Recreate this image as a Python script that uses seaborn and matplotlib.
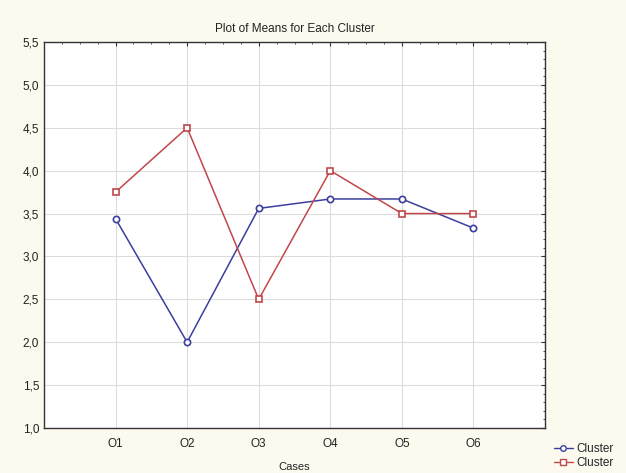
import numpy as np
import pandas as pd
import matplotlib
matplotlib.use("Agg")
import matplotlib.pyplot as plt
import seaborn as sns
from matplotlib.ticker import FuncFormatter, MultipleLocator, AutoMinorLocator

# values
cases = ["O1", "O2", "O3", "O4", "O5", "O6"]
cluster_1 = [3.44, 2.0, 3.56, 3.67, 3.67, 3.33]
cluster_2 = [3.75, 4.5, 2.5, 4.0, 3.5, 3.5]
legend_labels = ["Cluster", "Cluster"]

df = pd.DataFrame({
    "pos": list(range(1, len(cases) + 1)) * 2,
    "mean": cluster_1 + cluster_2,
    "cluster": ["c1"] * len(cases) + ["c2"] * len(cases),
})

sns.set_style("white")
plt.rcParams["font.family"] = ["Liberation Sans", "DejaVu Sans"]

bg = "#fcf9ef"
fig = plt.figure(figsize=(6.26, 4.73), dpi=100, facecolor=bg)
ax = fig.add_axes([44 / 626, 1 - 428 / 473, (545 - 44) / 626, (428 - 42) / 473])
ax.set_facecolor("white")

palette = {"c1": "#3b3f9c", "c2": "#c0474a"}
sns.lineplot(data=df, x="pos", y="mean", hue="cluster", style="cluster",
             markers={"c1": "o", "c2": "s"}, dashes=False, palette=palette,
             linewidth=1.1, ax=ax, legend=False)

# seaborn draws white marker edges; make them open markers in line colour
for line in ax.get_lines():
    c = line.get_color()
    line.set_markerfacecolor("white")
    line.set_markeredgecolor(c)
    line.set_markeredgewidth(1.2)
    line.set_markersize(4.5)

ax.set_xlim(0, 7)
ax.set_ylim(1.0, 5.5)
ax.set_xticks(range(1, len(cases) + 1))
ax.set_xticklabels(cases)
ax.yaxis.set_major_locator(MultipleLocator(0.5))
ax.yaxis.set_minor_locator(AutoMinorLocator(5))
ax.xaxis.set_minor_locator(AutoMinorLocator(4))
ax.yaxis.set_major_formatter(FuncFormatter(lambda v, p: f"{v:.1f}".replace(".", ",")))
ax.grid(True, which="major", color="#dcdcdc", linewidth=0.8)
ax.tick_params(which="both", direction="in", top=True, right=True,
               labelsize=8.5, colors="#333333", labelcolor="#222222")
ax.tick_params(which="major", length=3)
ax.tick_params(which="minor", length=1.5)
ax.tick_params(axis="x", pad=7)
for s in ax.spines.values():
    s.set_color("#333333")
    s.set_linewidth(1.0)

ax.set_xlabel("Cases", fontsize=8, labelpad=9, color="#222222")
ax.set_ylabel("")
ax.set_title("Plot of Means for Each Cluster", fontsize=8.5, pad=7, color="#222222")

handles = [
    plt.Line2D([], [], color=palette["c1"], marker="o", markerfacecolor="white",
               markersize=4, linewidth=1.0),
    plt.Line2D([], [], color=palette["c2"], marker="s", markerfacecolor="white",
               markersize=4, linewidth=1.0),
]
fig.legend(handles, legend_labels, loc="lower right", bbox_to_anchor=(0.995, -0.012),
           frameon=False, fontsize=8.5, handlelength=1.6, handletextpad=0.3,
           labelspacing=0.2, borderpad=0.3)

fig.savefig("out.png", dpi=100, facecolor=bg)
